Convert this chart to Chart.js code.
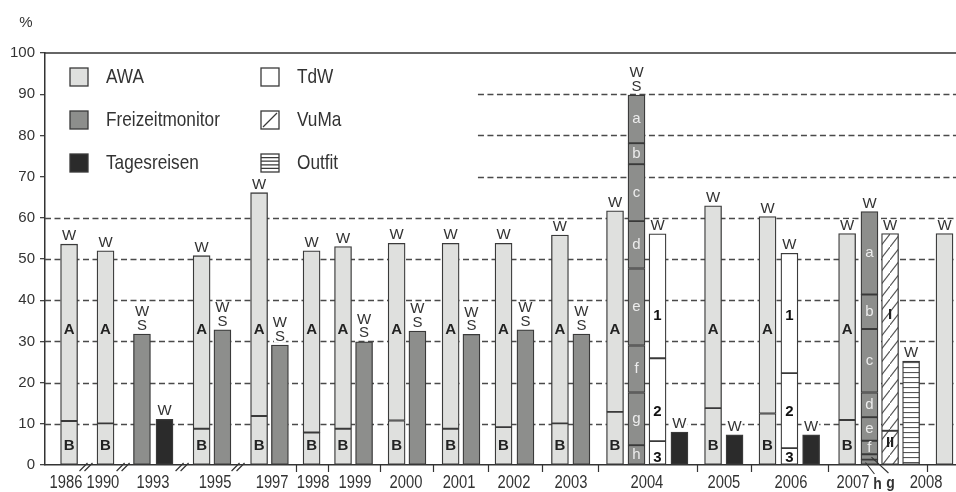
<!DOCTYPE html>
<html lang="de">
<head>
<meta charset="UTF-8">
<title>Studien im Vergleich</title>
<script src="https://cdn.jsdelivr.net/npm/chart.js@4.4.1/dist/chart.umd.min.js"></script>
<style>
  html, body { margin: 0; padding: 0; background: #fff; }
  canvas { display: block; }
</style>
</head>
<body>
<canvas id="chart" width="956" height="492"></canvas>
<script>
// ---- values (percent) ----
const years = ['1986','1990','1993','1995','1997','1998','1999','2000','2001','2002','2003','2004','2005','2006','2007','2008'];

const awaYears = ['1986','1990','1995','1997','1998','1999','2000','2001','2002','2003','2004','2005','2006','2007','2008'];
const awaTotal = [53.6, 52.0, 50.8, 66.1, 52.0, 53.0, 53.8, 53.8, 53.8, 55.8, 61.7, 62.9, 60.3, 56.2, 56.2];
const awaB     = [10.7, 10.1, 8.8, 11.9, 7.9, 8.8, 10.8, 8.8, 9.2, 10.1, 12.9, 13.8, 12.5, 10.9, null];

const fmYears = ['1993','1995','1997','1999','2000','2001','2002','2003','2004','2007'];
const fmTotal = [31.8, 32.8, 29.1, 29.9, 32.5, 31.7, 32.8, 31.8, 89.8, 61.5];
const fmTag   = ['W S','W S','W S','W S','W S','W S','W S','W S','W S','W'];
const fmParts = ['h','g','f','e','d','c','b','a'];          // bottom to top
const fm2004  = [4.8, 12.8, 11.4, 18.7, 11.5, 13.8, 5.1, 11.7];
const fm2007  = [1.3, 1.3, 3.3, 5.7, 6.0, 15.4, 8.4, 20.1];

const trYears = ['1993','2004','2005','2006'];
const trTotal = [11.1, 8.0, 7.3, 7.3];

const tdwYears = ['2004','2006'];
const tdwParts = ['3','2','1'];
const tdw2004  = [5.8, 20.1, 30.2];
const tdw2006  = [4.1, 18.2, 29.1];

const vumaParts = ['II','I'];
const vuma2007  = [8.3, 47.9];
const outfit2007 = 25.2;

// ---- layout along the x axis (0..42 slots) ----
const slotAWA  = [1.11, 2.79, 7.22, 9.87, 12.29, 13.74, 16.21, 18.70, 21.14, 23.74, 26.28, 30.80, 33.31, 36.98, 41.47];
const slotFM   = [4.47, 8.18, 10.83, 14.71, 17.17, 19.66, 22.15, 24.73, 27.27, 38.01];
const slotTR   = [5.51, 29.25, 31.79, 35.32];
const slotTdW  = [28.24, 34.32];
const slotVuMa = 38.96, slotOutfit = 39.93;
const yearAt   = [0.97, 2.67, 4.98, 7.84, 10.47, 12.36, 14.29, 16.64, 19.09, 21.62, 24.25, 27.75, 31.30, 34.39, 37.25, 40.62];
const sepAt    = [11.57, 13.05, 15.44, 17.89, 20.42, 22.91, 25.50, 30.06, 32.55, 36.10, 40.66];
const breakAt  = [1.89, 3.60, 6.32, 8.90];
const upperGridFrom = 19.96;
// where the in-bar letters sit (y value)
const awaLetterAt = {A: 32.8, B: 4.6};
const tdwLetterAt = [1.8, 12.8, 36.2];
const vumaLetterAt = [5.3, 36.4];

const SANS = '"Liberation Sans", Arial, sans-serif';
const SQUEEZE = 0.82;   // the scan's lettering is condensed
const INK = '#333';
const EDGE = '#3a3a3a';
const AWA_FILL = '#dfe0de', FM_FILL = '#8d8e8c', TR_FILL = '#2b2b2b';

const canvas = document.getElementById('chart');
const c2d = canvas.getContext('2d');

function makePattern(kind) {
  const t = document.createElement('canvas');
  const g = t.getContext('2d');
  if (kind === 'diag') {
    t.width = 10; t.height = 13;
    g.fillStyle = '#fff'; g.fillRect(0, 0, 10, 13);
    g.strokeStyle = '#555'; g.lineWidth = 1.1;
    g.beginPath();
    g.moveTo(-1, 14.3); g.lineTo(11, -1.3);
    g.stroke();
  } else {
    t.width = 4; t.height = 5;
    g.fillStyle = '#fff'; g.fillRect(0, 0, 4, 5);
    g.fillStyle = '#555'; g.fillRect(0, 2, 4, 1.1);
  }
  return c2d.createPattern(t, 'repeat');
}

function stack(slot, parts) {
  let lo = 0;
  return parts.map(v => { const seg = {x: slot, y: [lo, lo + v]}; lo += v; return seg; });
}

const awaData = [];
awaYears.forEach((yr, i) => {
  if (awaB[i] == null) awaData.push({x: slotAWA[i], y: [0, awaTotal[i]]});
  else awaData.push(...stack(slotAWA[i], [awaB[i], awaTotal[i] - awaB[i]]));
});

const fmData = [];
fmYears.forEach((yr, i) => {
  if (yr === '2004') fmData.push(...stack(slotFM[i], fm2004));
  else if (yr === '2007') fmData.push(...stack(slotFM[i], fm2007));
  else fmData.push({x: slotFM[i], y: [0, fmTotal[i]]});
});

const trData = trYears.map((yr, i) => ({x: slotTR[i], y: [0, trTotal[i]]}));
const tdwData = [...stack(slotTdW[0], tdw2004), ...stack(slotTdW[1], tdw2006)];
const vumaData = stack(slotVuMa, vuma2007);
const outfitData = [{x: slotOutfit, y: [0, outfit2007]}];

function barSet(label, data, fill) {
  return {
    label, data,
    backgroundColor: fill,
    borderColor: EDGE,
    borderWidth: 1.3,
    borderSkipped: false,
    barThickness: 17,
    grouped: false
  };
}

function sum(a) { return a.reduce((s, v) => s + v, 0); }

function text(ctx, s, x, y, font, color, knock) {
  ctx.font = font;
  ctx.textAlign = 'center';
  ctx.textBaseline = 'middle';
  if (knock) {
    const w = ctx.measureText(s).width;
    ctx.fillStyle = '#fff';
    ctx.fillRect(x - w / 2 - 1, y - 6, w + 2, 12);
  }
  ctx.fillStyle = color;
  ctx.fillText(s, x, y);
}

// condensed text: squeeze horizontally around the anchor
function narrowText(ctx, s, x, y, font, align) {
  ctx.save();
  ctx.translate(x, y);
  ctx.scale(SQUEEZE, 1);
  ctx.font = font;
  ctx.textAlign = align;
  ctx.textBaseline = 'middle';
  ctx.fillStyle = INK;
  ctx.fillText(s, 0, 0);
  ctx.restore();
}

const gridPlugin = {
  id: 'dashGrid',
  beforeDatasetsDraw(chart) {
    const {ctx, chartArea: {left, right}, scales: {x, y}} = chart;
    ctx.save();
    ctx.strokeStyle = '#4a4a4a';
    ctx.lineWidth = 1.4;
    ctx.setLineDash([6, 3.5]);
    for (let v = 10; v <= 90; v += 10) {
      const py = Math.round(y.getPixelForValue(v)) + 0.5;
      const from = v <= 60 ? left : x.getPixelForValue(upperGridFrom);
      ctx.beginPath(); ctx.moveTo(from, py); ctx.lineTo(right, py); ctx.stroke();
    }
    ctx.setLineDash([]);
    ctx.strokeStyle = INK;
    ctx.lineWidth = 1.5;
    const top = y.getPixelForValue(100);
    ctx.beginPath(); ctx.moveTo(left, top); ctx.lineTo(right, top); ctx.stroke();
    ctx.restore();
  }
};

const marksPlugin = {
  id: 'marks',
  afterDatasetsDraw(chart) {
    const {ctx, chartArea: {left, top}, scales: {x, y}} = chart;
    const y0 = y.getPixelForValue(0);
    const F_TAG = '15px ' + SANS;
    const F_BOLD = 'bold 15px ' + SANS;
    ctx.save();

    // W / S tags above the bars
    const tagW = (slot, v) => text(ctx, 'W', x.getPixelForValue(slot), y.getPixelForValue(v) - 8, F_TAG, INK, true);
    awaYears.forEach((yr, i) => tagW(slotAWA[i], awaTotal[i]));
    fmYears.forEach((yr, i) => {
      const px = x.getPixelForValue(slotFM[i]), py = y.getPixelForValue(fmTotal[i]);
      if (fmTag[i] === 'W S') {
        text(ctx, 'S', px, py - 8.5, F_TAG, INK, true);
        text(ctx, 'W', px, py - 22, F_TAG, INK, true);
      } else {
        text(ctx, 'W', px, py - 8, F_TAG, INK, true);
      }
    });
    trYears.forEach((yr, i) => tagW(slotTR[i], trTotal[i]));
    tagW(slotTdW[0], sum(tdw2004));
    tagW(slotTdW[1], sum(tdw2006));
    tagW(slotVuMa, sum(vuma2007));
    tagW(slotOutfit, outfit2007);

    // A / B inside the AWA bars
    awaYears.forEach((yr, i) => {
      if (awaB[i] == null) return;
      const px = x.getPixelForValue(slotAWA[i]);
      text(ctx, 'A', px, y.getPixelForValue(awaLetterAt.A), F_BOLD, '#222');
      text(ctx, 'B', px, y.getPixelForValue(awaLetterAt.B), F_BOLD, '#222');
    });

    // a..h inside the Freizeitmonitor bars
    [[fm2004, slotFM[fmYears.indexOf('2004')]], [fm2007, slotFM[fmYears.indexOf('2007')]]].forEach(([parts, slot], k) => {
      let lo = 0;
      parts.forEach((v, j) => {
        const mid = lo + v / 2;
        lo += v;
        if (k === 1 && j < 2) return; // h, g labelled below the axis
        text(ctx, fmParts[j], x.getPixelForValue(slot), y.getPixelForValue(mid), '15px ' + SANS, '#ececec');
      });
    });

    // 1 2 3 in TdW, I II in VuMa
    slotTdW.forEach(slot => {
      tdwParts.forEach((s, j) => text(ctx, s, x.getPixelForValue(slot), y.getPixelForValue(tdwLetterAt[j]), F_BOLD, '#111'));
    });
    vumaParts.forEach((s, j) => text(ctx, s, x.getPixelForValue(slotVuMa), y.getPixelForValue(vumaLetterAt[j]), F_BOLD, '#222'));

    // h g leaders under 2007
    const cx = x.getPixelForValue(slotFM[fmYears.indexOf('2007')]);
    ctx.strokeStyle = INK;
    ctx.lineWidth = 1.1;
    ctx.beginPath();
    ctx.moveTo(cx - 4, y.getPixelForValue(0.6)); ctx.lineTo(cx + 5, y0 + 9);
    ctx.moveTo(cx + 2, y.getPixelForValue(1.9)); ctx.lineTo(cx + 19, y0 + 8);
    ctx.stroke();
    narrowText(ctx, 'h', cx + 8, y0 + 19, 'bold 17px ' + SANS, 'center');
    narrowText(ctx, 'g', cx + 21, y0 + 18, 'bold 17px ' + SANS, 'center');

    // year labels under the axis, at the x scale positions
    years.forEach((yr, i) => narrowText(ctx, yr, x.getPixelForValue(yearAt[i]), y0 + 18, '18px ' + SANS, 'center'));

    // group separators and axis breaks
    ctx.strokeStyle = INK;
    ctx.lineWidth = 1.2;
    ctx.beginPath();
    sepAt.forEach(s => {
      const px = Math.round(x.getPixelForValue(s)) + 0.5;
      ctx.moveTo(px, y0 - 1); ctx.lineTo(px, y0 + 7);
    });
    breakAt.forEach(s => {
      const px = x.getPixelForValue(s);
      [-2.5, 2.5].forEach(d => { ctx.moveTo(px + d - 4, y0 + 6); ctx.lineTo(px + d + 4, y0 - 2); });
    });
    ctx.stroke();

    // legend
    const legend = [
      {label: 'AWA', fill: AWA_FILL}, {label: 'Freizeitmonitor', fill: FM_FILL}, {label: 'Tagesreisen', fill: TR_FILL},
      {label: 'TdW', fill: '#fff'}, {label: 'VuMa', fill: '#fff', mark: 'diag'}, {label: 'Outfit', fill: '#fff', mark: 'rows'}
    ];
    legend.forEach((it, i) => {
      const bx = left + (i < 3 ? 25 : 216);
      const by = top + [24, 67, 110][i % 3] - 9;
      ctx.fillStyle = it.fill;
      ctx.fillRect(bx, by, 18, 18);
      ctx.strokeStyle = EDGE;
      ctx.lineWidth = 1.3;
      ctx.strokeRect(bx, by, 18, 18);
      ctx.beginPath();
      if (it.mark === 'diag') { ctx.moveTo(bx + 2, by + 16); ctx.lineTo(bx + 16, by + 2); }
      if (it.mark === 'rows') { for (let r = 1; r <= 4; r++) { ctx.moveTo(bx, by + r * 3.6); ctx.lineTo(bx + 18, by + r * 3.6); } }
      ctx.stroke();
      narrowText(ctx, it.label, bx + 36, by + 9, '21px ' + SANS, 'left');
    });

    // unit
    ctx.font = '15px ' + SANS;
    ctx.textAlign = 'center';
    ctx.fillStyle = INK;
    ctx.fillText('%', 26, 23);
    ctx.restore();
  }
};

new Chart(canvas, {
  type: 'bar',
  data: {
    datasets: [
      barSet('AWA', awaData, AWA_FILL),
      barSet('Freizeitmonitor', fmData, FM_FILL),
      barSet('Tagesreisen', trData, TR_FILL),
      barSet('TdW', tdwData, '#fff'),
      barSet('VuMa', vumaData, makePattern('diag')),
      barSet('Outfit', outfitData, makePattern('rows'))
    ]
  },
  options: {
    responsive: false,
    animation: false,
    devicePixelRatio: 1,
    layout: {padding: {top: 53, left: 0, right: 0, bottom: 0}},
    plugins: {legend: {display: false}, tooltip: {enabled: false}},
    scales: {
      x: {
        type: 'linear', min: 0, max: 42, offset: false,
        afterBuildTicks: s => { s.ticks = yearAt.map(v => ({value: v})); },
        afterFit: s => { s.height = 27; },
        ticks: {display: false},
        grid: {drawOnChartArea: false, drawTicks: false},
        border: {color: INK, width: 1.5}
      },
      y: {
        min: 0, max: 100,
        afterFit: s => { s.width = 45; },
        ticks: {stepSize: 10, padding: 5, color: INK, font: {family: SANS, size: 15}},
        grid: {drawOnChartArea: false, tickLength: 5, color: '#444', lineWidth: 1.3},
        border: {color: INK, width: 1.5}
      }
    }
  },
  plugins: [gridPlugin, marksPlugin]
});
</script>
</body>
</html>
